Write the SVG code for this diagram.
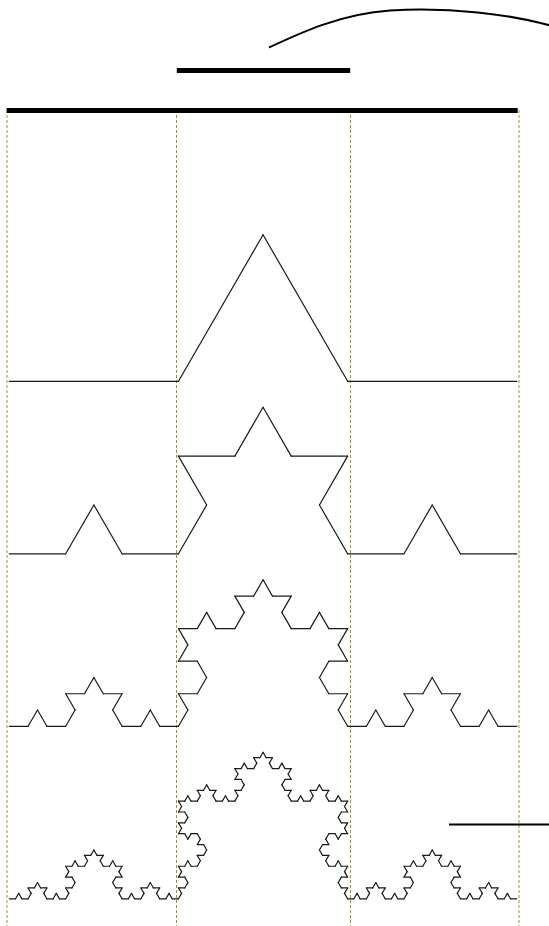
<svg xmlns="http://www.w3.org/2000/svg" xmlns:xlink="http://www.w3.org/1999/xlink" width="549" height="926" viewBox="0 0 549 926">
  <style>
    .guide { stroke: #a88a3c; stroke-width: 1; stroke-dasharray: 3 2; fill: none; }
    .thick { stroke: #000; stroke-width: 5; fill: none; }
    .seg { stroke: #1a1a1a; stroke-width: 1.2; fill: none; stroke-linecap: round; vector-effect: non-scaling-stroke; }
  </style>
  <defs>
    <path id="k0" class="seg" d="M0,0 L1,0"/>
    <g id="k1">
      <use xlink:href="#k0" href="#k0" transform="scale(0.33333333)"/>
      <use xlink:href="#k0" href="#k0" transform="translate(0.33333333,0) rotate(-60) scale(0.33333333)"/>
      <use xlink:href="#k0" href="#k0" transform="translate(0.5,-0.28867513) rotate(60) scale(0.33333333)"/>
      <use xlink:href="#k0" href="#k0" transform="translate(0.66666667,0) scale(0.33333333)"/>
    </g>
    <g id="k2">
      <use xlink:href="#k1" href="#k1" transform="scale(0.33333333)"/>
      <use xlink:href="#k1" href="#k1" transform="translate(0.33333333,0) rotate(-60) scale(0.33333333)"/>
      <use xlink:href="#k1" href="#k1" transform="translate(0.5,-0.28867513) rotate(60) scale(0.33333333)"/>
      <use xlink:href="#k1" href="#k1" transform="translate(0.66666667,0) scale(0.33333333)"/>
    </g>
    <g id="k3">
      <use xlink:href="#k2" href="#k2" transform="scale(0.33333333)"/>
      <use xlink:href="#k2" href="#k2" transform="translate(0.33333333,0) rotate(-60) scale(0.33333333)"/>
      <use xlink:href="#k2" href="#k2" transform="translate(0.5,-0.28867513) rotate(60) scale(0.33333333)"/>
      <use xlink:href="#k2" href="#k2" transform="translate(0.66666667,0) scale(0.33333333)"/>
    </g>
    <g id="k4">
      <use xlink:href="#k3" href="#k3" transform="scale(0.33333333)"/>
      <use xlink:href="#k3" href="#k3" transform="translate(0.33333333,0) rotate(-60) scale(0.33333333)"/>
      <use xlink:href="#k3" href="#k3" transform="translate(0.5,-0.28867513) rotate(60) scale(0.33333333)"/>
      <use xlink:href="#k3" href="#k3" transform="translate(0.66666667,0) scale(0.33333333)"/>
    </g>
  </defs>
  <rect width="549" height="926" fill="#fff"/>

  <g id="guides">
    <line class="guide" x1="7" y1="110" x2="7" y2="926"/>
    <line class="guide" x1="176.5" y1="110" x2="176.5" y2="926"/>
    <line class="guide" x1="350.5" y1="110" x2="350.5" y2="926"/>
    <line class="guide" x1="519" y1="110" x2="519" y2="926"/>
  </g>

  <g id="top">
    <path d="M269,47.5 C300,33 340,14 390,10.5 C450,7 510,14 552,26" fill="none" stroke="#000" stroke-width="2"/>
    <line class="thick" x1="176.8" y1="70.5" x2="350.2" y2="70.5"/>
    <line class="thick" x1="6.7" y1="110.5" x2="517.7" y2="110.5"/>
  </g>

  <g id="level1">
    <use xlink:href="#k1" href="#k1" transform="translate(9.3,381.3) scale(507.5)"/>
  </g>
  <g id="level2">
    <use xlink:href="#k2" href="#k2" transform="translate(9.3,553.8) scale(507.5)"/>
  </g>
  <g id="level3">
    <use xlink:href="#k3" href="#k3" transform="translate(9.3,726.3) scale(507.5)"/>
  </g>
  <g id="level4">
    <use xlink:href="#k4" href="#k4" transform="translate(9.3,898.8) scale(507.5)"/>
  </g>

  <line x1="449" y1="824.5" x2="549" y2="824.5" stroke="#000" stroke-width="2"/>
</svg>
